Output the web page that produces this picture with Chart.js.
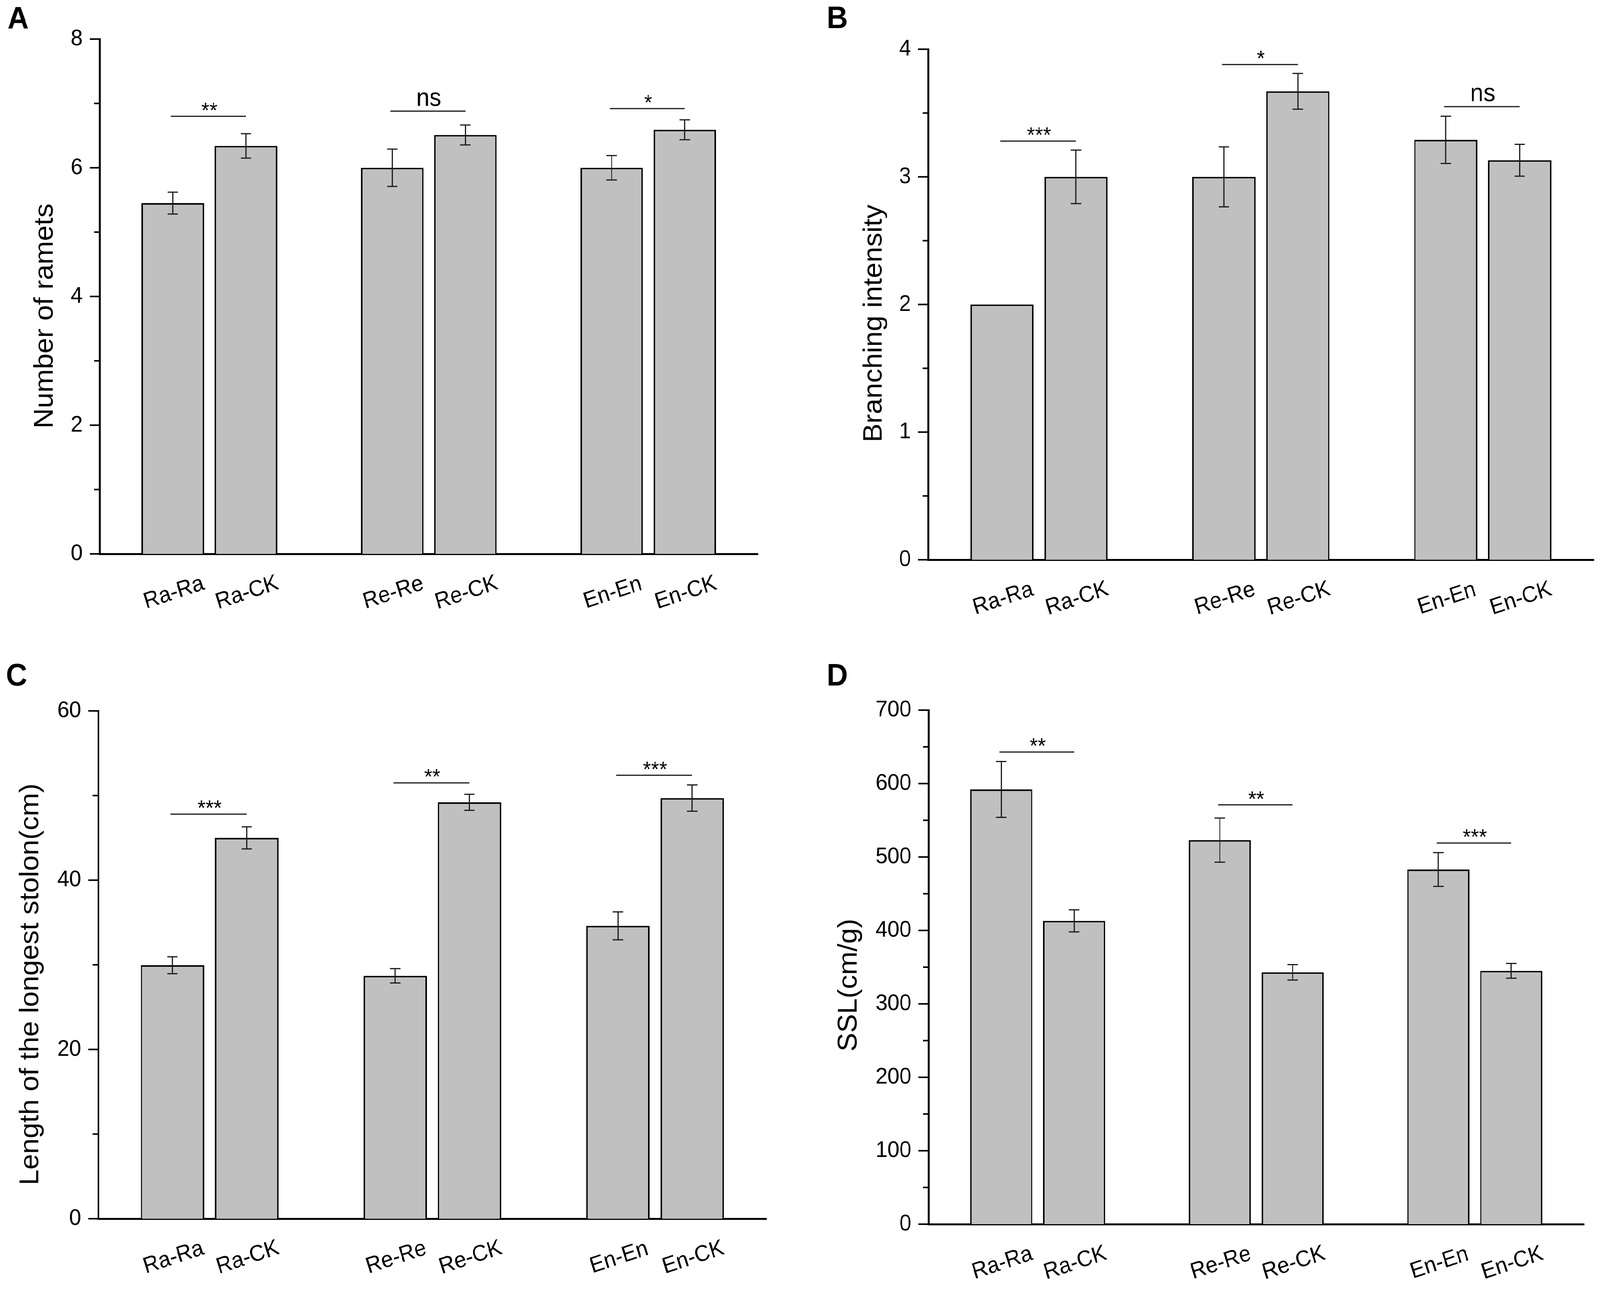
<!DOCTYPE html>
<html>
<head>
<meta charset="utf-8">
<script src="https://cdn.jsdelivr.net/npm/chart.js@4.4.1/dist/chart.umd.min.js"></script>
<style>
  html, body { margin: 0; padding: 0; background: #fff; overflow: hidden; }
  #frame { position: relative; overflow: hidden; background: #fff; }
  #wrap { position: absolute; left: 0; top: 0; width: 4317px; height: 3323px; transform-origin: 0 0; background: #fff; }
  canvas { position: absolute; }
</style>
</head>
<body>
<div id="frame">
  <div id="wrap">
    <canvas id="chartA" width="2158" height="1660" style="left:0px;top:0px"></canvas>
    <canvas id="chartB" width="2159" height="1660" style="left:2158px;top:0px"></canvas>
    <canvas id="chartC" width="2158" height="1663" style="left:0px;top:1660px"></canvas>
    <canvas id="chartD" width="2159" height="1663" style="left:2158px;top:1660px"></canvas>
  </div>
</div>
<script>
// treatments, shown in pairs
const categories = ['Ra-Ra', 'Ra-CK', 'Re-Re', 'Re-CK', 'En-En', 'En-CK'];

// A: number of ramets
const rametsMean = [5.45, 6.34, 6.0, 6.51, 6.0, 6.59];
const rametsErr = [0.17, 0.19, 0.29, 0.155, 0.19, 0.155];
const rametsSigY = [6.80, 6.88, 6.92];
const rametsSig = ['**', 'ns', '*'];

// B: branching intensity
const branchMean = [2.0, 3.0, 3.0, 3.67, 3.29, 3.13];
const branchErr = [0, 0.21, 0.235, 0.14, 0.185, 0.125];
const branchSigY = [3.28, 3.88, 3.55];
const branchSig = ['***', '*', 'ns'];

// C: length of the longest stolon (cm)
const stolonMean = [29.95, 45.0, 28.7, 49.2, 34.6, 49.7];
const stolonErr = [1.0, 1.3, 0.85, 0.95, 1.65, 1.55];
const stolonSigY = [47.8, 51.5, 52.4];
const stolonSig = ['***', '**', '***'];

// D: specific stolon length (cm/g)
const sslMean = [592, 413, 523, 343, 483, 345];
const sslErr = [38, 15, 30, 10.5, 23, 10];
const sslSigY = [643, 571, 519];
const sslSig = ['**', '**', '***'];

const FONT = "'Liberation Sans', Arial, Helvetica, sans-serif";
const PAGE_W = 4317, PAGE_H = 3323;

// the viewport does not come out at exactly 4317x3323, so stretch the figure to fill it
const fitX = window.innerWidth / PAGE_W;
const fitY = window.innerHeight / PAGE_H;
const frame = document.getElementById('frame');
frame.style.width = window.innerWidth + 'px';
frame.style.height = window.innerHeight + 'px';
document.getElementById('wrap').style.transform = 'scale(' + fitX + ',' + fitY + ')';

// pairs sit on slots 1,2 / 4,5 / 7,8 of a 0..9 axis
function slotOf(i) { return i + 1 + Math.floor(i / 2); }
function toSlots(arr, blank) {
  const out = new Array(10).fill(blank);
  arr.forEach((v, i) => { out[slotOf(i)] = v; });
  return out;
}

function makeDecor(p) {
  return {
    id: 'decor' + p.letter,
    afterDatasetsDraw(chart) {
      const ctx = chart.ctx, xs = chart.scales.x, ys = chart.scales.y;
      ctx.save();
      ctx.strokeStyle = '#1a1a1a';
      ctx.lineWidth = 3;
      // error bars
      p.mean.forEach((m, i) => {
        const e = p.err[i];
        if (!e) return;
        const px = xs.getPixelForValue(slotOf(i));
        const top = ys.getPixelForValue(m + e), bot = ys.getPixelForValue(m - e);
        ctx.beginPath();
        ctx.moveTo(px, top); ctx.lineTo(px, bot);
        ctx.moveTo(px - 14, top); ctx.lineTo(px + 14, top);
        ctx.moveTo(px - 14, bot); ctx.lineTo(px + 14, bot);
        ctx.stroke();
      });
      // significance brackets
      p.sigY.forEach((v, g) => {
        const x1 = xs.getPixelForValue(slotOf(2 * g)), x2 = xs.getPixelForValue(slotOf(2 * g + 1));
        const py = ys.getPixelForValue(v);
        ctx.beginPath();
        ctx.moveTo(x1 - 5, py); ctx.lineTo(x2, py);
        ctx.stroke();
        const t = p.sig[g];
        ctx.fillStyle = '#000';
        ctx.textAlign = 'center';
        ctx.textBaseline = 'alphabetic';
        if (t === 'ns') {
          ctx.font = '64px ' + FONT;
          ctx.fillText(t, (x1 + x2) / 2, py - 14);
        } else {
          ctx.font = '56px ' + FONT;
          ctx.fillText(t, (x1 + x2) / 2, py + 3);
        }
      });
      ctx.restore();
    },
    afterDraw(chart) {
      const ctx = chart.ctx, xs = chart.scales.x, ys = chart.scales.y;
      const left = chart.chartArea.left, bottom = chart.chartArea.bottom;
      ctx.save();
      // y tick marks, major and minor
      ctx.strokeStyle = '#000';
      ctx.lineWidth = 4;
      const n = Math.round(p.max / p.minor);
      for (let k = 0; k <= n; k++) {
        const v = k * p.minor;
        const major = k % Math.round(p.major / p.minor) === 0;
        const py = ys.getPixelForValue(v);
        ctx.beginPath();
        ctx.moveTo(left - (major ? 27 : 15), py);
        ctx.lineTo(left, py);
        ctx.stroke();
      }
      ctx.fillStyle = '#000';
      // category labels, tilted
      ctx.font = '58px ' + FONT;
      ctx.textAlign = 'center';
      ctx.textBaseline = 'middle';
      categories.forEach((c, i) => {
        const px = xs.getPixelForValue(slotOf(i)) + 3;
        ctx.save();
        ctx.translate(px, bottom + 100);
        ctx.rotate(-17.5 * Math.PI / 180);
        ctx.fillText(c, 0, 0);
        ctx.restore();
      });
      // y title
      ctx.save();
      ctx.font = '72px ' + FONT;
      ctx.translate(p.titleX, p.titleY);
      ctx.rotate(-Math.PI / 2);
      ctx.fillText(p.title, 0, 0);
      ctx.restore();
      // panel letter
      ctx.font = 'bold 80px ' + FONT;
      ctx.textAlign = 'left';
      ctx.textBaseline = 'alphabetic';
      ctx.fillText(p.letter, p.letterX, p.letterY);
      ctx.restore();
    }
  };
}

function makePanel(id, p) {
  const canvas = document.getElementById(id);
  const W = canvas.width, H = canvas.height;
  return new Chart(canvas.getContext('2d'), {
    type: 'bar',
    data: {
      labels: toSlots(categories, ''),
      datasets: [{
        data: toSlots(p.mean, null),
        backgroundColor: '#c0c0c0',
        borderColor: '#000',
        borderWidth: 4,
        borderSkipped: 'start',
        categoryPercentage: 1,
        barPercentage: 0.855
      }]
    },
    options: {
      responsive: false,
      devicePixelRatio: 1,
      animation: false,
      events: [],
      layout: { padding: { left: 0, right: W - p.R, top: p.T, bottom: H - p.B } },
      plugins: { legend: { display: false }, tooltip: { enabled: false } },
      scales: {
        x: {
          type: 'category',
          offset: false,
          z: 1,
          grid: { display: false, drawTicks: false },
          ticks: { display: false },
          border: { display: true, color: '#000', width: 5 },
          afterFit: s => { s.height = 0; }
        },
        y: {
          type: 'linear',
          min: 0,
          max: p.max,
          z: 1,
          grid: { display: false, drawTicks: false },
          border: { display: true, color: '#000', width: 5 },
          ticks: {
            stepSize: p.major,
            color: '#000',
            padding: 46,
            font: { family: FONT, size: 58 }
          },
          afterFit: s => { s.width = p.L; }
        }
      }
    },
    plugins: [makeDecor(p)]
  });
}

makePanel('chartA', {
  letter: 'A', letterX: 20, letterY: 73,
  title: 'Number of ramets', titleX: 122, titleY: 809,
  L: 269, R: 2045, T: 100, B: 1418,
  max: 8, major: 2, minor: 1,
  mean: rametsMean, err: rametsErr, sigY: rametsSigY, sig: rametsSig
});

makePanel('chartB', {
  letter: 'B', letterX: 72, letterY: 72,
  title: 'Branching intensity', titleX: 201, titleY: 828,
  L: 346, R: 2142, T: 126, B: 1433,
  max: 4, major: 1, minor: 0.5,
  mean: branchMean, err: branchErr, sigY: branchSigY, sig: branchSig
});

makePanel('chartC', {
  letter: 'C', letterX: 16, letterY: 95,
  title: 'Length of the longest stolon(cm)', titleX: 83, titleY: 860,
  L: 265, R: 2068, T: 160, B: 1460,
  max: 60, major: 20, minor: 10,
  mean: stolonMean, err: stolonErr, sigY: stolonSigY, sig: stolonSig
});

makePanel('chartD', {
  letter: 'D', letterX: 72, letterY: 95,
  title: 'SSL(cm/g)', titleX: 133, titleY: 862,
  L: 347, R: 2116, T: 158, B: 1474,
  max: 700, major: 100, minor: 50,
  mean: sslMean, err: sslErr, sigY: sslSigY, sig: sslSig
});
</script>
</body>
</html>
